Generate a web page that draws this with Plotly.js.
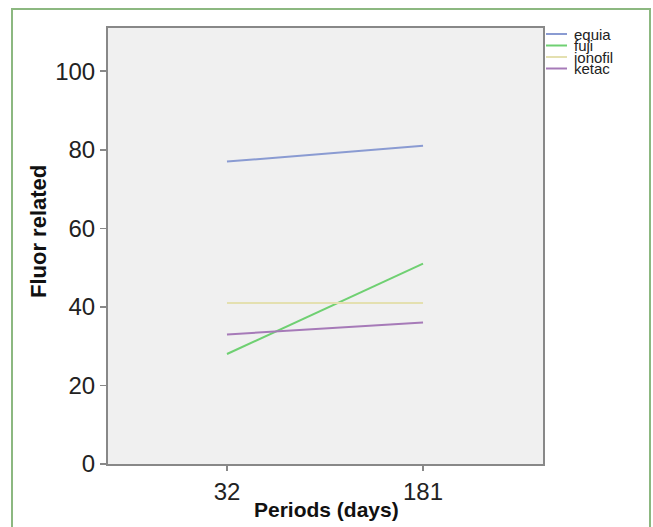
<!DOCTYPE html>
<html>
<head>
<meta charset="utf-8">
<script src="https://cdn.plot.ly/plotly-3.0.1.min.js"></script>
<style>
html,body{margin:0;padding:0;background:#fff;}
#frame{position:absolute;left:11px;top:8px;width:636px;height:530px;border:2px solid #8cb880;border-bottom:none;}
#chart{position:absolute;left:0;top:0;width:653px;height:527px;}
</style>
</head>
<body>
<div id="frame"></div>
<div id="chart"></div>
<script>
const periods = ['32', '181'];
const seriesNames = ['equia', 'fuji', 'ionofil', 'ketac'];
const equia = [77, 81];
const fuji = [28, 51];
const ionofil = [41, 41];
const ketac = [33, 36];
const seriesValues = [equia, fuji, ionofil, ketac];
const seriesColors = ['#8a9bd2', '#6fd072', '#e4e0b0', '#a67ab8'];
const xTitle = 'Periods (days)';
const yTitle = 'Fluor related';

const W = 653, H = 527;
const M = {l: 108, r: 110, t: 28, b: 63};
const pw = W - M.l - M.r, ph = H - M.t - M.b;
const px2x = p => (p - M.l) / pw;
const px2y = p => 1 - (p - M.t) / ph;

const traces = seriesNames.map((n, i) => ({
  x: periods, y: seriesValues[i], type: 'scatter', mode: 'lines', name: n,
  line: {color: seriesColors[i], width: 2}, showlegend: false
}));

const shapes = [], annotations = [];
seriesNames.forEach((n, i) => {
  const yp = px2y(34 + i * 11.5);
  shapes.push({type: 'line', xref: 'paper', yref: 'paper',
    x0: px2x(546), x1: px2x(567), y0: yp, y1: yp,
    line: {color: seriesColors[i], width: 2}});
  annotations.push({xref: 'paper', yref: 'paper', x: px2x(573), y: yp,
    xanchor: 'left', yanchor: 'middle', text: n, showarrow: false, borderpad: 0,
    font: {family: 'Liberation Sans, Arial', size: 15, color: '#222'}});
});
annotations.push({xref: 'paper', yref: 'paper', x: px2x(326), y: px2y(510),
  xanchor: 'center', yanchor: 'middle', text: xTitle, showarrow: false, borderpad: 0,
  font: {size: 21, color: '#111', family: 'Liberation Sans, Arial', weight: 'bold'}});
annotations.push({xref: 'paper', yref: 'paper', x: px2x(38), y: px2y(232), textangle: -90,
  xanchor: 'center', yanchor: 'middle', text: yTitle, showarrow: false, borderpad: 0,
  font: {size: 22, color: '#111', family: 'Liberation Sans, Arial', weight: 'bold'}});

const layout = {
  width: W, height: H,
  margin: M,
  paper_bgcolor: 'rgba(0,0,0,0)',
  plot_bgcolor: '#f0f0f0',
  font: {family: 'Liberation Sans, Arial', color: '#222'},
  xaxis: {
    type: 'category', range: [-0.607, 1.612],
    showgrid: false, zeroline: false,
    showline: true, linecolor: '#888', linewidth: 2, mirror: true,
    ticks: 'outside', ticklen: 5, tickcolor: '#888', tickwidth: 1.5,
    tickfont: {size: 24, color: '#222'}
  },
  yaxis: {
    range: [0, 111], dtick: 20,
    showgrid: false, zeroline: false,
    showline: true, linecolor: '#888', linewidth: 2, mirror: true,
    ticks: 'outside', ticklen: 6, tickcolor: '#888', tickwidth: 1.5,
    tickfont: {size: 24, color: '#222'}
  },
  shapes: shapes,
  annotations: annotations
};

Plotly.newPlot('chart', traces, layout, {displayModeBar: false, staticPlot: true});
</script>
</body>
</html>
